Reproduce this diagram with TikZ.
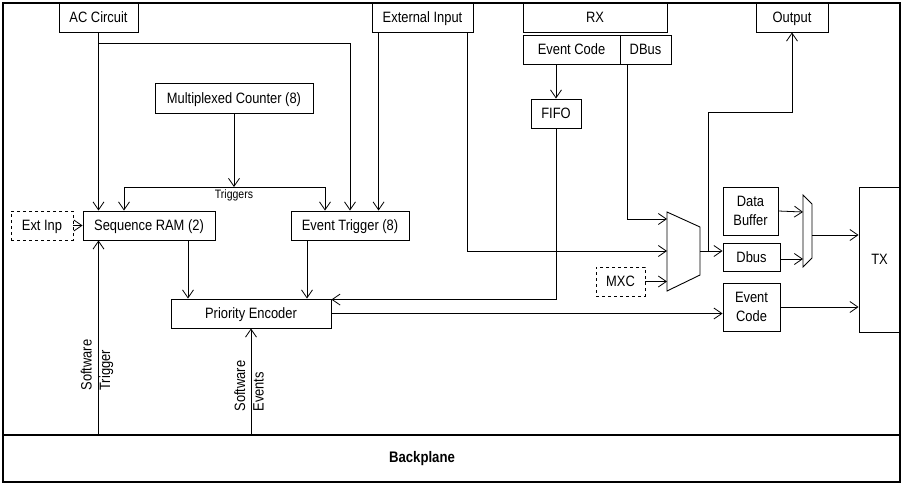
\documentclass[tikz,border=0pt]{standalone}
\usepackage{fontspec}
\setsansfont[FakeStretch=0.86]{Liberation Sans}
\usetikzlibrary{arrows.meta}

\begin{document}
\begin{tikzpicture}[x=1pt, y=-1pt, font=\sffamily\fontsize{15}{18.5}\selectfont,
        box/.style={draw, line width=0.9pt, inner sep=0pt, minimum height=29pt, align=center},
        blk/.style={box, text height=11pt, text depth=1pt},
        dblk/.style={blk, dashed},
        conn/.style={line width=0.8pt, -{Straight Barb[length=8pt,width=11pt]}}]
        \useasboundingbox (0,0) rectangle (904,488);
        \draw[line width=1.2pt] (3,3) rectangle (900,482);
        % boxes along the top
        \node[blk, minimum width=79pt] (ac) at (98.5,17.5) {AC Circuit};
        \node[blk, minimum width=101pt] (ext) at (422.5,17.5) {External Input};
        \node[blk, minimum width=144pt] (rx) at (595,17.5) {RX};
        \node[blk, minimum width=97pt] (rxevc) at (571.5,49.5) {Event Code};
        \node[blk, minimum width=51pt] (rxdbus) at (645.5,49.5) {DBus};
        \node[blk, minimum width=72pt] (out) at (792,17.5) {Output};
        \node[blk, minimum width=50pt] (fifo) at (556,113.5) {FIFO};
        \node[blk, minimum width=158pt, minimum height=30pt] (mcnt) at (234,98) {Multiplexed Counter (8)};
        % middle row
        \node[dblk, minimum width=62pt] (extinp) at (42,225.5) {Ext Inp};
        \node[blk, minimum width=132pt] (seq) at (149,225.5) {Sequence RAM (2)};
        \node[blk, minimum width=118pt] (etrig) at (350,225.5) {Event Trigger (8)};
        \node[blk, minimum width=160pt] (prio) at (251,313.5) {Priority Encoder};
        \node[dblk, minimum width=49pt] (mxc) at (620.5,281.5) {MXC};
        % transmit side
        \node[box, minimum width=55pt, minimum height=48pt] (dbuf) at (750.5,211) {Data\\Buffer};
        \node[blk, minimum width=57pt, minimum height=28pt] (dbx) at (751.5,257) {Dbus};
        \node[box, minimum width=57pt, minimum height=48pt] (evcode) at (751.5,307) {Event\\Code};
        \node[blk, minimum width=41pt, minimum height=145pt] (tx) at (879.5,259.5) {TX};
        \node[box, minimum width=897pt, minimum height=47pt, line width=1.2pt] (bpl) at (451.5,458.5) {};
        \node[font=\sffamily\bfseries\fontsize{15.3}{17}\selectfont] (bplab) at (422,459) {Backplane};
        % multiplexers
        \draw[line width=0.9pt] (667,212) -- (700,227) -- (700,275) -- (667,291) -- cycle;
        \draw[line width=0.9pt] (803,195) -- (812,204) -- (812,258) -- (803,267) -- cycle;
        \coordinate (mxain) at (667,219);
        \coordinate (mxbin) at (667,251);
        \coordinate (mxout) at (700,251);
        \coordinate (mxtap) at (708,251);
        \coordinate (mybin) at (803,212);
        \coordinate (mycin) at (803,259);
        \coordinate (myout) at (812,235);
        \coordinate (acj) at (99,43);
        \coordinate (trg) at (234,187);
        % connectors
        \draw[conn] (ac.south) -- (ac.south |- seq.north);
        \draw[conn] (acj) -| (etrig.north);
        \draw[conn] ([xshift=7pt]ext.south west) coordinate (ea) -- (ea |- etrig.north);
        \draw[conn] (mcnt.south) -- (trg);
        \draw[conn] (trg) -| ([xshift=-25pt]seq.north);
        \draw[conn] (trg) -| ([xshift=-25pt]etrig.north);
        \node[font=\sffamily\fontsize{12.2}{14}\selectfont, below=-1pt] (trglab) at (trg) {Triggers};
        \draw[conn] (extinp.east) -- (seq.west);
        \draw[conn] ([xshift=39pt]seq.south) coordinate (sa) -- (sa |- prio.north);
        \draw[conn] ([xshift=-43pt]etrig.south) coordinate (ta) -- (ta |- prio.north);
        \draw[conn] (fifo.north |- rxevc.south) -- (fifo.north);
        \draw[conn] (fifo.south) |- ([yshift=-1pt]prio.north east);
        \draw[conn] ([xshift=-18.5pt]rxdbus.south) |- (mxain);
        \draw[conn] ([xshift=-6pt]ext.south east) |- (mxbin);
        \draw[conn] (mxc.east) -- (mxc.east -| mxain);
        \draw[conn] (mxout) -- (mxout -| dbx.west);
        \draw[conn] (mxtap) -- ++(0,-139) -| (out.south);
        \draw[conn] (prio.east) -- (prio.east -| evcode.west);
        \draw[conn] (dbuf.east) -- (mybin);
        \draw[conn] (dbx.east |- mycin) -- (mycin);
        \draw[conn] (myout) -- (myout -| tx.west);
        \draw[conn] (evcode.east) -- (evcode.east -| tx.west);
        \draw[conn] (bpl.north -| ac.south) -- (ac.south |- seq.south);
        \draw[conn] (bpl.north -| prio.south) -- (prio.south);
        \node[rotate=90, align=left] (swtrig) at (97,365) {Software\\Trigger};
        \node[rotate=90, align=left] (swev) at (249,386) {Software\\Events};
    \end{tikzpicture}
\end{document}
